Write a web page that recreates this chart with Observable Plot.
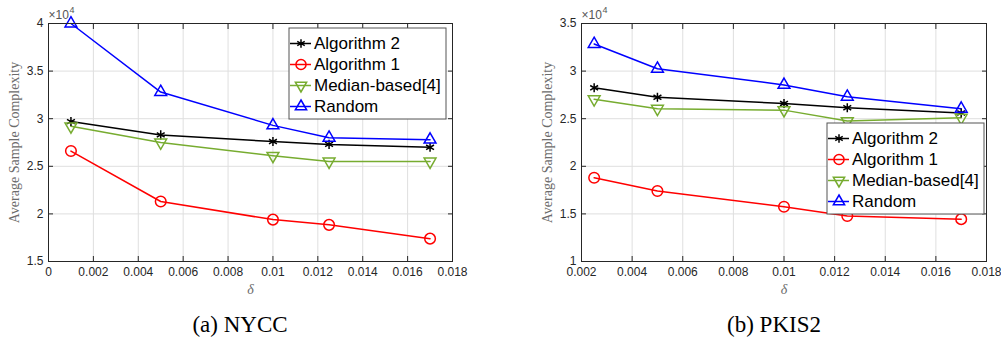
<!DOCTYPE html>
<html>
<head>
<meta charset="utf-8">
<script src="https://cdn.jsdelivr.net/npm/d3@7"></script>
<script src="https://cdn.jsdelivr.net/npm/@observablehq/plot@0.6"></script>
<style>
  html, body { margin: 0; padding: 0; background: #fff; }
  #wrap { position: relative; width: 1001px; height: 339px; background: #fff; overflow: hidden; }
  .panel { position: absolute; top: 0; }
  .legend { position: absolute; }
  .cap { position: absolute; top: 311px; width: 200px; text-align: center; font-family: "Liberation Serif", "Times New Roman", serif; font-size: 23px; line-height: 28px; color: #000; }
</style>
</head>
<body>
<div id="wrap">
  <div id="pa" class="panel" style="left:0px"></div>
  <div id="pb" class="panel" style="left:500px"></div>
  <div id="la" class="legend" style="left:288px; top:27px"></div>
  <div id="lb" class="legend" style="left:826px; top:122px"></div>
  <div class="cap" style="left:140px">(a) NYCC</div>
  <div class="cap" style="left:674px">(b) PKIS2</div>
</div>
<script>
// ---------- data ----------
const seriesNames = ["Algorithm 2", "Algorithm 1", "Median-based[4]", "Random"];

// (a) NYCC
const deltaA = [0.001, 0.005, 0.01, 0.0125, 0.017];
const alg2A  = [29700, 28300, 27600, 27300, 27000];
const alg1A  = [26600, 21300, 19400, 18850, 17400];
const medA   = [29200, 27500, 26100, 25500, 25500];
const randA  = [40000, 32800, 29300, 28000, 27800];
const xTicksA = [0, 0.002, 0.004, 0.006, 0.008, 0.01, 0.012, 0.014, 0.016, 0.018];
const yTicksA = [15000, 20000, 25000, 30000, 35000, 40000];

// (b) PKIS2
const deltaB = [0.0025, 0.005, 0.01, 0.0125, 0.017];
const alg2B  = [28250, 27250, 26600, 26150, 25600];
const alg1B  = [18800, 17400, 15750, 14780, 14450];
const medB   = [27050, 26050, 25900, 24750, 25100];
const randB  = [32850, 30250, 28550, 27300, 26050];
const xTicksB = [0.002, 0.004, 0.006, 0.008, 0.01, 0.012, 0.014, 0.016, 0.018];
const yTicksB = [10000, 15000, 20000, 25000, 30000, 35000];

// ---------- styles ----------
const seriesColors  = ["#000000", "#ff0000", "#77ac30", "#0000ff"];
const seriesSymbols = ["asterisk", "circle", "triangle", "triangle"];
const seriesRotate  = [0, 0, 180, 0];
const seriesR       = [4.3, 5.3, 4.4, 4.4];
const axisColor = "#262626";
const gridColor = "#dfdfdf";
const sans = "Liberation Sans, Arial, Helvetica, sans-serif";
const serif = "Liberation Serif, Times New Roman, serif";

function buildRows(delta, lists) {
  const rows = [];
  lists.forEach((vals, i) => vals.forEach((v, j) => rows.push({s: seriesNames[i], x: delta[j], y: v})));
  return rows;
}

const fmtX = d => String(+d.toFixed(4));
const fmtY = d => String(d / 1e4);

function panel(rows, xDomain, yDomain, xTicks, yTicks, mL, mR, width) {
  const marks = [
    Plot.gridX(xTicks, {stroke: gridColor, strokeOpacity: 1}),
    Plot.gridY(yTicks, {stroke: gridColor, strokeOpacity: 1}),
    Plot.line(rows, {x: "x", y: "y", z: "s", stroke: "s", strokeWidth: 1.5})
  ];
  seriesNames.forEach((name, i) => {
    const sub = rows.filter(r => r.s === name);
    marks.push(Plot.dot(sub, {
      x: "x", y: "y", symbol: seriesSymbols[i], r: seriesR[i], rotate: seriesRotate[i],
      stroke: seriesColors[i], fill: "none", strokeWidth: 1.5
    }));
  });
  marks.push(
    Plot.axisX(xTicks, {anchor: "bottom", tickSize: -5, tickPadding: 11, tickFormat: fmtX, label: null,
      fontFamily: sans, fontSize: 12, color: axisColor}),
    Plot.axisX(xTicks, {anchor: "top", tickSize: -5, tickFormat: () => "", label: null, color: axisColor}),
    Plot.axisY(yTicks, {anchor: "left", tickSize: -5, tickPadding: 10, tickFormat: fmtY, label: null,
      fontFamily: sans, fontSize: 12, color: axisColor}),
    Plot.axisY(yTicks, {anchor: "right", tickSize: -5, tickFormat: () => "", label: null, color: axisColor}),
    Plot.frame({stroke: axisColor, strokeWidth: 1}),
    Plot.text(["Average Sample Complexity"], {text: d => d, frameAnchor: "left", textAnchor: "middle",
      lineAnchor: "middle", dx: -34, rotate: -90, fontFamily: serif, fontSize: 14, fill: "#6b6b6b"}),
    Plot.text(["δ"], {text: d => d, frameAnchor: "bottom", lineAnchor: "middle", dy: 28, fontFamily: serif,
      fontStyle: "italic", fontSize: 14, fill: "#6b6b6b"}),
    Plot.text(["×10"], {text: d => d, frameAnchor: "top-left", textAnchor: "start", lineAnchor: "middle",
      dx: 0, dy: -8, fontFamily: sans, fontSize: 12, fill: "#555"}),
    Plot.text(["4"], {text: d => d, frameAnchor: "top-left", textAnchor: "start", lineAnchor: "middle",
      dx: 21, dy: -13, fontFamily: sans, fontSize: 9, fill: "#555"})
  );
  return Plot.plot({
    width, height: 300,
    marginLeft: mL, marginRight: mR, marginTop: 23, marginBottom: 39,
    style: {background: "transparent", overflow: "visible"},
    x: {domain: xDomain, axis: null},
    y: {domain: yDomain, axis: null},
    color: {domain: seriesNames, range: seriesColors},
    marks
  });
}

function legend() {
  const marks = [
    Plot.frame({fill: "white", stroke: "#555", inset: 0.5}),
    Plot.ruleY(seriesNames, {y: d => d, x1: 2, x2: 23, stroke: d => d, strokeWidth: 1.5})
  ];
  seriesNames.forEach((name, i) => {
    marks.push(Plot.dot([name], {x: () => 12.5, y: d => d, symbol: seriesSymbols[i], r: seriesR[i] * 0.95,
      rotate: seriesRotate[i], stroke: seriesColors[i], fill: "none", strokeWidth: 1.5}));
  });
  marks.push(Plot.text(seriesNames, {x: () => 25.5, y: d => d, text: d => d, textAnchor: "start",
    fontFamily: sans, fontSize: 17, fill: "#000"}));
  return Plot.plot({
    width: 158, height: 92, margin: 0,
    style: {background: "transparent", overflow: "visible"},
    x: {domain: [0, 158], range: [0, 158], axis: null},
    y: {type: "point", domain: seriesNames, range: [14.4, 80], padding: 0, axis: null},
    color: {domain: seriesNames, range: seriesColors},
    marks
  });
}

const rowsA = buildRows(deltaA, [alg2A, alg1A, medA, randA]);
const rowsB = buildRows(deltaB, [alg2B, alg1B, medB, randB]);

document.getElementById("pa").append(panel(rowsA, [0, 0.018], [15000, 40000], xTicksA, yTicksA, 48, 48, 500));
document.getElementById("pb").append(panel(rowsB, [0.002, 0.018], [10000, 35000], xTicksB, yTicksB, 81, 15, 501));
document.getElementById("la").append(legend());
document.getElementById("lb").append(legend());
</script>
</body>
</html>
